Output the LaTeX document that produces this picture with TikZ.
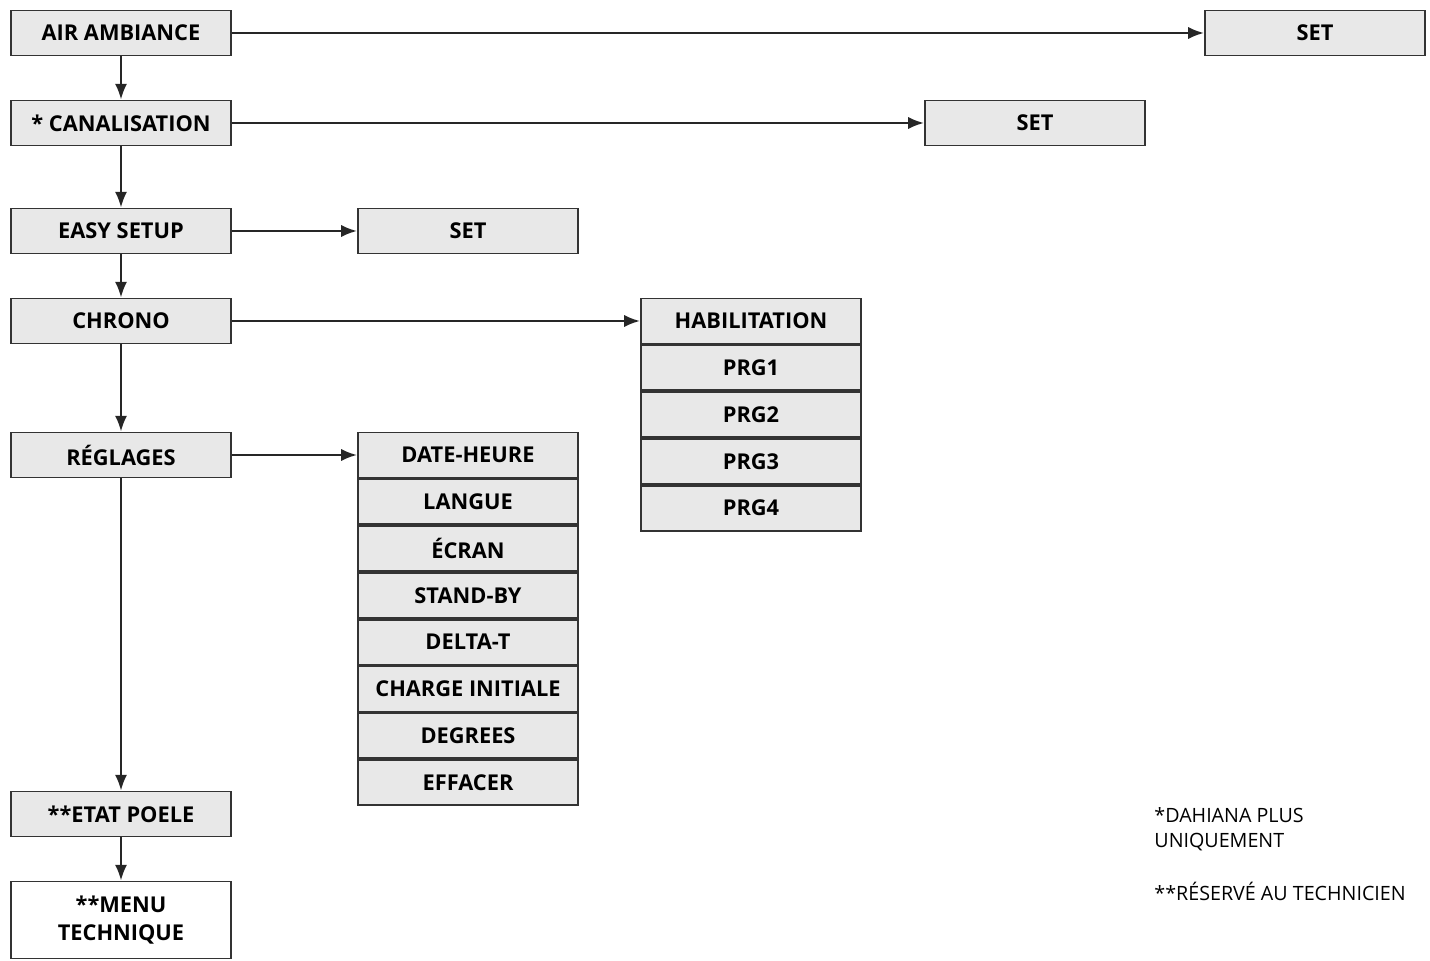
\documentclass[tikz,border=0pt]{standalone}
\usepackage{fontspec}
\setmainfont{Open Sans}
\usetikzlibrary{arrows.meta,positioning}
\definecolor{boxgray}{RGB}{232,232,232}
\begin{document}
\begin{tikzpicture}[x=0.01cm,y=-0.01cm,thick,
    font=\fontsize{6.2}{7}\selectfont\bfseries]
    \tikzstyle{box}=[draw=black!80, line width=0.5pt, fill=boxgray, minimum width=2.2cm, minimum height=0.45cm, inner sep=0pt]
    \tikzstyle{arr}=[draw=black!85, line width=0.7pt, -{Latex[length=4.5pt,width=3.5pt]}]
    \useasboundingbox (0,0) rectangle (1430,961);

    % left column
    \node[box] (air) at (121,33) {AIR AMBIANCE};
    \node[box] (can) at (121,123) {* CANALISATION};
    \node[box] (easy) at (121,231) {EASY SETUP};
    \node[box] (chrono) at (121,321) {CHRONO};
    \node[box] (regl) at (121,455) {RÉGLAGES};
    \node[box] (etat) at (121,814) {**ETAT POELE};
    \node[box, fill=white, minimum height=0.77cm, align=center] (tech) at (121,920) {**MENU\\[1pt]TECHNIQUE};

    % SET boxes
    \node[box] (setair) at (1315,33) {SET};
    \node[box] (setcan) at (1035,123) {SET};
    \node[box] (seteasy) at (468,231) {SET};

    % chrono stack
    \node[box] (hab) at (751,321) {HABILITATION};
    \node[box] (prg1) [below=0pt of hab] {PRG1};
    \node[box] (prg2) [below=0pt of prg1] {PRG2};
    \node[box] (prg3) [below=0pt of prg2] {PRG3};
    \node[box] (prg4) [below=0pt of prg3] {PRG4};

    % reglages stack
    \node[box] (date) at (468,455) {DATE-HEURE};
    \node[box] (langue) [below=0pt of date] {LANGUE};
    \node[box] (ecran) [below=0pt of langue] {ÉCRAN};
    \node[box] (stand) [below=0pt of ecran] {STAND-BY};
    \node[box] (delta) [below=0pt of stand] {DELTA-T};
    \node[box] (charge) [below=0pt of delta] {CHARGE INITIALE};
    \node[box] (degrees) [below=0pt of charge] {DEGREES};
    \node[box] (effacer) [below=0pt of degrees] {EFFACER};

    % notes
    \node[anchor=north west, align=left, inner sep=0pt, font=\fontsize{5.6}{7.2}\selectfont] (note1) at (1153,806) {*DAHIANA PLUS\\UNIQUEMENT};
    \node[anchor=north west, inner sep=0pt, font=\fontsize{5.6}{7.2}\selectfont] (note2) at (1153,881) {**RÉSERVÉ AU TECHNICIEN};

    \path[arr] (air) -- (setair);
    \path[arr] (can) -- (setcan);
    \path[arr] (easy) -- (seteasy);
    \path[arr] (chrono) -- (hab);
    \path[arr] (regl) -- (date);

    \path[arr] (air) -- (can);
    \path[arr] (can) -- (easy);
    \path[arr] (easy) -- (chrono);
    \path[arr] (chrono) -- (regl);
    \path[arr] (regl) -- (etat);
    \path[arr] (etat) -- (tech);
\end{tikzpicture}
\end{document}
